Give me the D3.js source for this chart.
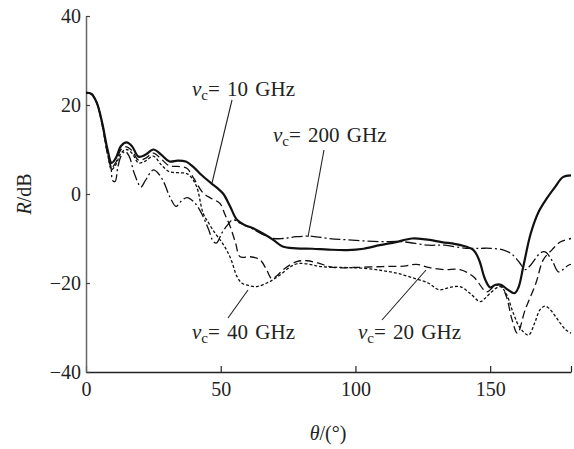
<!DOCTYPE html>
<html><head><meta charset="utf-8">
<script src="https://cdn.jsdelivr.net/npm/d3@7"></script>
<style>body{margin:0;background:#fff}svg{display:block}</style>
</head><body>
<script>
// Data: [theta (deg), R (dB)]
const s10 = [[0,22.8],[2,22.5],[4,20.5],[6,16],[8,10],[9.5,7],[11,8],[13,10.8],[15,11.6],[17,10.8],[19.5,8.4],[22,8.8],[25,10],[28,8.8],[31,7.3],[34,7.5],[37,7.3],[40,6],[43,4.2],[46.5,2.4],[49,1.2],[51,0],[53.5,-2.8],[56,-5.8],[59,-7],[62,-7.7],[66,-9],[69.5,-10.3],[73,-11.8],[78,-12.2],[84,-12.3],[90,-12.5],[97,-12.6],[103,-12.3],[109,-11.5],[115,-10.8],[121,-10],[126,-10.2],[132,-10.8],[139,-11.5],[143.8,-12.6],[146,-15],[148,-19],[150,-21],[152,-20.4],[154,-20.4],[156.5,-21.5],[159,-22.3],[160.5,-21],[162.3,-16.3],[165,-9],[168,-4],[171,-1],[174,1.5],[177,3.8],[180,4.2]];
const s200 = [[0,22.8],[2,22.5],[4,20.5],[6,16],[8,9.5],[9.3,6],[9.9,3],[10.8,2.8],[11.8,6],[13,8.5],[14.5,9.6],[16,8.5],[18,4.5],[20.4,1.6],[22,3],[25,5.4],[27,4.5],[29,2.5],[31,-0.5],[33.4,-2.8],[35,-1.8],[37.5,-0.8],[40.5,-2.1],[43,-4.5],[45.5,-8],[47.3,-10.7],[48.5,-11],[50.4,-8.8],[52.5,-7],[54.5,-5.8],[57,-6.5],[62,-7.9],[66,-9.2],[69.5,-10],[73,-10],[78,-9.6],[84,-9.5],[90,-10],[97,-10.3],[109,-10.7],[117,-10.7],[127,-11.5],[133,-11.5],[141,-12.2],[146.4,-12.2],[150,-12.2],[155,-12.6],[158,-13.5],[161,-15.5],[163,-17],[165,-16],[168.5,-13.3],[170.4,-13],[173,-15],[175.3,-17.5],[177,-17],[179,-16],[180,-15.8]];
const s20 = [[0,22.8],[2,22.5],[4,20.5],[6,15.5],[8,9],[9.5,6],[11,7],[13,10],[15,10.6],[17,9.8],[19.5,7.6],[22,8],[25,9.2],[28,7.8],[31,6.3],[34,6.2],[37.4,5.8],[40,3.5],[43.5,0.2],[46.5,-1],[49.7,-2.1],[51.5,-4.5],[53.5,-7.3],[55.5,-11],[57.2,-14.1],[60.9,-14.1],[64.6,-14.8],[67,-17],[68.9,-19],[71,-18.3],[73.2,-17],[78.2,-15.2],[82,-15],[86,-15.5],[91.8,-16.5],[100,-16.5],[110,-16.3],[118,-16.2],[122.7,-15.8],[127,-16.5],[133,-17],[138.8,-17],[143.8,-18.6],[148.7,-22],[151,-21],[153.7,-20.4],[156,-23],[158,-28],[160.1,-31.3],[163,-26],[167,-20],[169.7,-14.8],[173,-12.5],[176,-10.8],[180,-10]];
const s40 = [[0,22.8],[2,22.5],[4,20.5],[6,15.5],[8,9],[9.5,5.5],[11,6.5],[13,9.2],[15,10],[17,9.2],[19.5,7],[22,7.4],[25,8.5],[28,6.5],[31,5],[34,4.8],[37.4,4.6],[39,3.8],[41.1,1.6],[43.5,-4.4],[45.5,-6.5],[47.9,-8.8],[50,-10.5],[52.2,-12.6],[54,-15],[56,-18.5],[57.8,-20],[60,-20.5],[63.4,-20.8],[67.1,-20],[69,-19.4],[72,-18.2],[76,-16.3],[79,-15.6],[83,-15.8],[87,-16.3],[95,-16.5],[103,-16.7],[110,-17.2],[115.3,-17.8],[121,-18.8],[127,-20],[131,-21.5],[135,-21],[138.8,-20.8],[142.5,-22.3],[146.3,-24.2],[148,-23.5],[150,-22.3],[153.7,-20.8],[156,-22.5],[158.6,-26.8],[161,-30],[164.2,-31.7],[166.5,-29],[168.5,-26],[170.4,-25.2],[172,-25.8],[174,-27.3],[176,-29],[178,-30.5],[180,-31.3]];
const xTicks = [0, 50, 100, 150, 180];
const xTickLabels = ["0", "50", "100", "150", ""];
const yTicks = [-40, -20, 0, 20, 40];
const labels = [
  {num: "10", x: 192, y: 96, x1: 232, y1: 100, x2: 212, y2: 183},
  {num: "200", x: 273, y: 142, x1: 324, y1: 150, x2: 308, y2: 237},
  {num: "40", x: 192, y: 339, x1: 228, y1: 318, x2: 248, y2: 290},
  {num: "20", x: 358, y: 339, x1: 382, y1: 320, x2: 426, y2: 270}
];

const W = 574, H = 449;
const svg = d3.select("body").append("svg").attr("width", W).attr("height", H)
  .style("font-family", "'Liberation Serif','DejaVu Serif',serif");
const x = d3.scaleLinear().domain([0, 180]).range([86, 571]);
const y = d3.scaleLinear().domain([-40, 40]).range([372, 16]);

// axes
const gx = svg.append("g").attr("transform", `translate(0,${y(-40)})`)
  .call(d3.axisBottom(x).tickValues(xTicks).tickFormat((d,i)=>xTickLabels[i]).tickSizeInner(-6).tickSizeOuter(0).tickPadding(10));
gx.select(".domain").attr("stroke", "#222").attr("stroke-width", 1.3);
gx.selectAll(".tick line").attr("stroke", "#222").attr("stroke-width", 1.2);
gx.selectAll(".tick text").attr("font-size", 20).attr("fill", "#222").attr("font-family", "'Liberation Serif',serif");

const gy = svg.append("g").attr("transform", `translate(${x(0)},0)`)
  .call(d3.axisLeft(y).tickValues(yTicks).tickFormat(d => d < 0 ? "\u2212" + Math.abs(d) : d).tickSizeInner(-4).tickSizeOuter(0).tickPadding(5));
gy.select(".domain").attr("stroke", "#666").attr("stroke-width", 1.5);
gy.selectAll(".tick line").attr("stroke", "#444").attr("stroke-width", 1.2);
gy.selectAll(".tick text").attr("font-size", 20).attr("fill", "#222").attr("font-family", "'Liberation Serif',serif");

// axis titles
svg.append("text").attr("transform", `translate(31,${y(0)}) rotate(-90)`).attr("text-anchor", "middle")
  .attr("font-size", 20).attr("fill", "#222")
  .html('<tspan font-style="italic">R</tspan>/dB');
svg.append("text").attr("x", 328).attr("y", 440).attr("text-anchor", "middle")
  .attr("font-size", 20).attr("fill", "#222")
  .html('<tspan font-style="italic">θ</tspan>/(°)');

// lines
const line = d3.line().x(d => x(d[0])).y(d => y(d[1])).curve(d3.curveCatmullRom.alpha(0.5));
const series = [
  {data: s200, dash: "11,3,2,3", w: 1.3},
  {data: s20, dash: "8,4", w: 1.3},
  {data: s40, dash: "3,2", w: 1.3},
  {data: s10, dash: null, w: 2.2}
];
series.forEach(s => {
  svg.append("path").datum(s.data).attr("d", line).attr("fill", "none")
    .attr("stroke", "#111").attr("stroke-width", s.w)
    .attr("stroke-dasharray", s.dash).attr("stroke-linejoin", "round");
});

// annotations
labels.forEach(l => {
  svg.append("line").attr("x1", l.x1).attr("y1", l.y1).attr("x2", l.x2).attr("y2", l.y2)
    .attr("stroke", "#222").attr("stroke-width", 1.1);
  svg.append("text").attr("x", l.x).attr("y", l.y).attr("font-size", 21).attr("fill", "#222")
    .attr("word-spacing", 2)
    .html(`<tspan font-style="italic">v</tspan><tspan font-size="15" dy="4">c</tspan><tspan dy="-4">= ${l.num} GHz</tspan>`);
});
</script>
</body></html>
